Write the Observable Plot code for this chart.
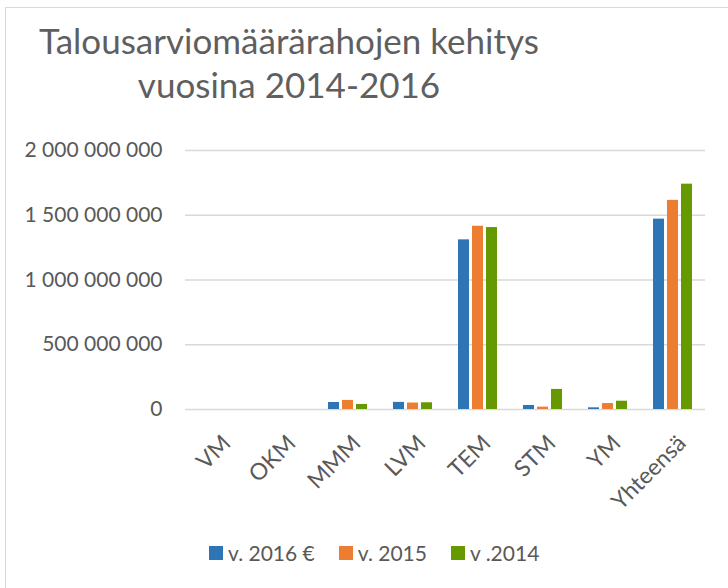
<!DOCTYPE html>
<html>
<head>
<meta charset="utf-8">
<script src="https://cdn.jsdelivr.net/npm/d3@7"></script>
<script src="https://cdn.jsdelivr.net/npm/@observablehq/plot@0.6"></script>
<style>
  html, body { margin: 0; padding: 0; background: #fff; }
  #wrap { position: relative; width: 728px; height: 588px; overflow: hidden; font-family: Lato, "Open Sans", sans-serif; color: #595959; }
  #frame { position: absolute; left: 5px; top: 7px; width: 760px; height: 620px; border: 1.5px solid #d9d9d9; box-sizing: border-box; }
  #title { position: absolute; left: 0; top: 0; }
  #chart { position: absolute; left: 0; top: 130px; }
  #legend { position: absolute; left: 209px; top: 542px; display: flex; align-items: center; font-size: 21px; line-height: 22px; }
  .item { display: flex; align-items: center; margin-right: 24px; }
  .sw { width: 14px; height: 14px; margin-right: 5px; }
</style>
</head>
<body>
<div id="wrap">
  <div id="frame"></div>
  <svg id="title" width="728" height="120"></svg>
  <div id="chart"></div>
  <div id="legend"></div>
</div>
<script>
const titleLines = ["Talousarviomäärärahojen kehitys", "vuosina 2014-2016"];
const categories = ["VM", "OKM", "MMM", "LVM", "TEM", "STM", "YM", "Yhteensä"];
const seriesNames = ["v. 2016 €", "v. 2015", "v .2014"];
const colors = ["#2E75B6", "#ED7D31", "#669900"];
const v2016 = [0, 0, 54e6, 55e6, 1.31e9, 31e6, 13e6, 1.47e9];
const v2015 = [0, 0, 70e6, 50e6, 1.415e9, 18e6, 46e6, 1.615e9];
const v2014 = [0, 0, 39e6, 52e6, 1.405e9, 155e6, 64e6, 1.74e9];
const yTicks = [0, 5e8, 1e9, 1.5e9, 2e9];

const seriesValues = [v2016, v2015, v2014];
const rows = [];
categories.forEach((c, i) => {
  seriesNames.forEach((s, j) => rows.push({category: c, series: s, value: seriesValues[j][i]}));
});

// Title
const tsvg = d3.select("#title");
tsvg.selectAll("text").data(titleLines).join("text")
  .attr("x", 289)
  .attr("y", (d, i) => i === 0 ? 54 : 98)
  .attr("text-anchor", "middle")
  .attr("font-family", "Lato, 'Open Sans', sans-serif")
  .attr("font-size", 35)
  .attr("fill", "#5f5f5f")
  .text(d => d);

const fmt = v => d3.format(",")(v).replace(/,/g, "\u00a0");

const chart = Plot.plot({
  width: 728,
  height: 400,
  marginLeft: 183,
  marginRight: 21,
  marginTop: 20,
  marginBottom: 121,
  style: {fontFamily: "Lato, 'Open Sans', sans-serif", fontSize: "21px", color: "#595959", background: "transparent"},
  fx: {domain: categories, padding: 0, label: null},
  x: {domain: seriesNames, axis: null, paddingInner: 0.2, paddingOuter: 0.86},
  y: {domain: [0, 2e9], axis: null},
  color: {domain: seriesNames, range: colors},
  marks: [
    Plot.gridY(yTicks, {stroke: "#d9d9d9", strokeOpacity: 1, strokeWidth: 1.5}),
    Plot.barY(rows, {fx: "category", x: "series", y: "value", fill: "series"}),
    Plot.axisY(yTicks, {tickFormat: fmt, tickSize: 0, tickPadding: 23, label: null}),
    Plot.axisFx({anchor: "bottom", tickRotate: -45, tickSize: 0, tickPadding: 16, label: null, fontSize: 23, dx: 9, dy: 14})
  ]
});
document.getElementById("chart").appendChild(chart);

// Legend
const leg = d3.select("#legend");
const items = leg.selectAll(".item").data(seriesNames).join("div").attr("class", "item");
items.append("div").attr("class", "sw").style("background", (d, i) => colors[i]);
items.append("span").text(d => d);
</script>
</body>
</html>
